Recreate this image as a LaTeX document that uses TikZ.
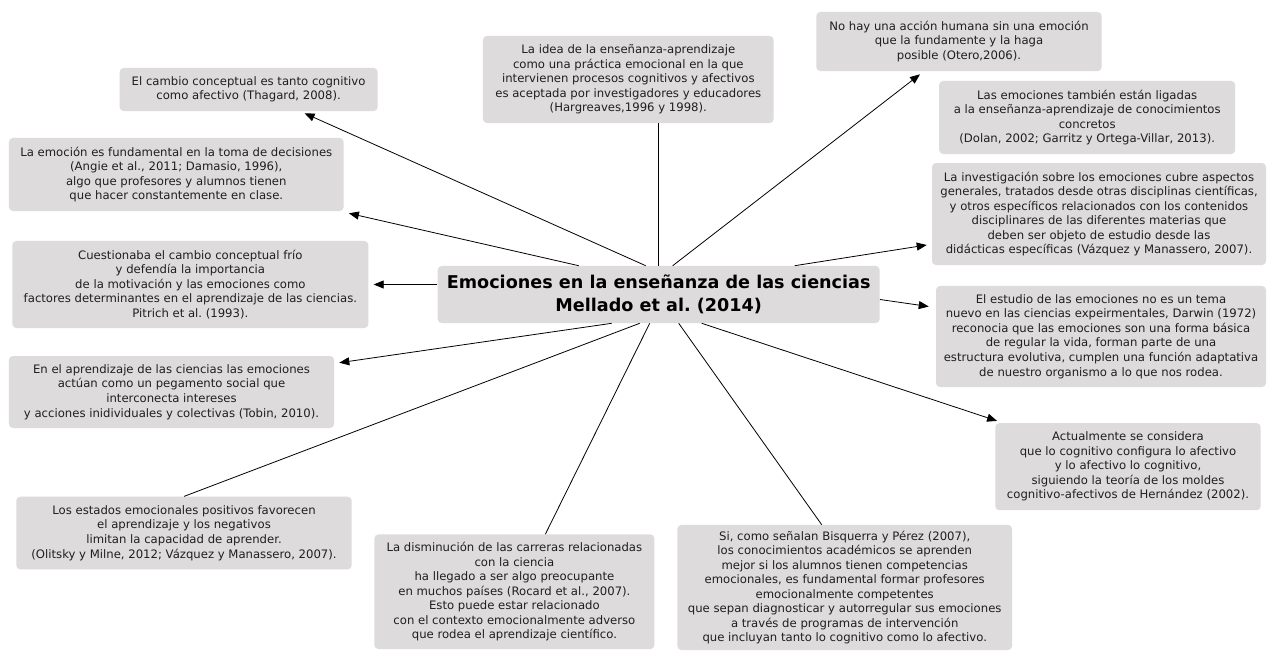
\documentclass[tikz,border=0pt]{standalone}
\usepackage{fontspec}
\setmainfont{DejaVu Sans}
\usepackage{xcolor}
\usepackage{tikz}
\usetikzlibrary{arrows.meta,calc}
\definecolor{boxgray}{RGB}{221,219,219}
\frenchspacing

\begin{document}
\begin{tikzpicture}[x=0.75pt,y=-0.75pt,
box/.style={fill=boxgray,rounded corners=3pt,align=center,inner sep=2pt,text=black!88,font=\fontsize{8.75}{10.9}\selectfont},
arr/.style={-{Triangle[length=7.5pt,width=6pt]},line width=0.6pt},ln/.style={line width=0.6pt}]
\useasboundingbox (0,0) rectangle (1271,650);
\node[box,minimum width=331.5pt,minimum height=42.8pt,text=black,font=\bfseries\fontsize{13.2}{17.3}\selectfont] (ctr) at (658.7,294.5) {Emociones en la enseñanza de las ciencias\\Mellado et al. (2014)};
% left side
\node[box,minimum width=193.5pt,minimum height=32.3pt] (cambio) at (248.6,89.5) {El cambio conceptual es tanto cognitivo\\como afectivo (Thagard, 2008).};
\node[box,minimum width=251pt,minimum height=54.8pt] (emocion) at (176.3,174.5) {La emoción es fundamental en la toma de decisiones\\(Angie et al., 2011; Damasio, 1996),\\algo que profesores y alumnos tienen\\que hacer constantemente en clase.};
\node[box,minimum width=267pt,minimum height=65.3pt] (cuest) at (190.4,284.5) {Cuestionaba el cambio conceptual frío\\y defendía la importancia\\de la motivación y las emociones como\\factores determinantes en el aprendizaje de las ciencias.\\Pitrich et al. (1993).};
\node[box,minimum width=243.8pt,minimum height=54pt] (aprend) at (171.5,392) {En el aprendizaje de las ciencias las emociones\\actúan como un pegamento social que\\interconecta intereses\\y acciones inidividuales y colectivas (Tobin, 2010).};
\node[box,minimum width=251.6pt,minimum height=54.5pt] (estados) at (184,533) {Los estados emocionales positivos favorecen\\el aprendizaje y los negativos\\limitan la capacidad de aprender.\\(Olitsky y Milne, 2012; Vázquez y Manassero, 2007).};
% top and bottom
\node[box,minimum width=218pt,minimum height=65.3pt] (idea) at (628.3,79.5) {La idea de la enseñanza-aprendizaje\\como una práctica emocional en la que\\intervienen procesos cognitivos y afectivos\\es aceptada por investigadores y educadores\\(Hargreaves,1996 y 1998).};
\node[box,minimum width=210pt,minimum height=86pt] (dismin) at (514.4,591.7) {La disminución de las carreras relacionadas\\con la ciencia\\ha llegado a ser algo preocupante\\en muchos países (Rocard et al., 2007).\\Esto puede estar relacionado\\con el contexto emocionalmente adverso\\que rodea el aprendizaje científico.};
\node[box,minimum width=251pt,minimum height=93.8pt] (sicomo) at (844.7,587.5) {Si, como señalan Bisquerra y Pérez (2007),\\los conocimientos académicos se aprenden\\mejor si los alumnos tienen competencias\\emocionales, es fundamental formar profesores\\emocionalmente competentes\\que sepan diagnosticar y autorregular sus emociones\\a través de programas de intervención\\que incluyan tanto lo cognitivo como lo afectivo.};
% right side
\node[box,minimum width=214pt,minimum height=44.3pt] (nohay) at (959,41.5) {No hay una acción humana sin una emoción\\que la fundamente y la haga\\posible (Otero,2006).};
\node[box,minimum width=222pt,minimum height=54.8pt] (tambien) at (1087.2,117.5) {Las emociones también están ligadas\\a la enseñanza-aprendizaje de conocimientos\\concretos\\(Dolan, 2002; Garritz y Ortega-Villar, 2013).};
\node[box,minimum width=250.5pt,minimum height=76.5pt] (invest) at (1099,214) {La investigación sobre los emociones cubre aspectos\\generales, tratados desde otras disciplinas científicas,\\y otros específicos relacionados con los contenidos\\disciplinares de las diferentes materias que\\deben ser objeto de estudio desde las\\didácticas específicas (Vázquez y Manassero, 2007).};
\node[box,minimum width=247.5pt,minimum height=75.8pt] (estudio) at (1101,336.5) {El estudio de las emociones no es un tema\\nuevo en las ciencias expeirmentales, Darwin (1972)\\reconocia que las emociones son una forma básica\\de regular la vida, forman parte de una\\estructura evolutiva, cumplen una función adaptativa\\de nuestro organismo a lo que nos rodea.};
\node[box,minimum width=199pt,minimum height=65.3pt] (actual) at (1128,466.7) {Actualmente se considera\\que lo cognitivo configura lo afectivo\\y lo afectivo lo cognitivo,\\siguiendo la teoría de los moldes\\cognitivo-afectivos de Hernández (2002).};
% connectors
\draw[arr] ($(ctr.north)+(-13,0)$) -- ($(cambio.south)+(56,2)$);
\draw[arr] ($(ctr.north)+(-80,0)$) -- ($(emocion.south east)+(5,2)$);
\draw[arr] (ctr.west |- cuest.east) -- ($(cuest.east)+(5,0)$);
\draw[arr] ($(ctr.south)+(-47,0)$) -- ($(aprend.north east)+(5,7)$);
\draw[ln] ($(ctr.south)+(-19,0)$) -- (estados.north);
\draw[ln] ($(ctr.south)+(-9,0)$) -- ($(dismin.north)+(31,0)$);
\draw[ln] ($(ctr.south)+(20,0)$) -- ($(sicomo.north)+(-23,0)$);
\draw[arr] ($(ctr.south)+(43,0)$) -- ($(actual.north west)+(2,-2)$);
\draw[arr] ($(ctr.east)+(0,5)$) -- ($(estudio.west)+(-7,-30)$);
\draw[arr] ($(ctr.north)+(136,0)$) -- ($(invest.west)+(-5,31)$);
\draw[arr] ($(ctr.north)+(14,0)$) -- ($(nohay.south)+(-39,3)$);
\draw[ln] (ctr.north) -- (ctr.north |- idea.south);
\end{tikzpicture}
\end{document}
